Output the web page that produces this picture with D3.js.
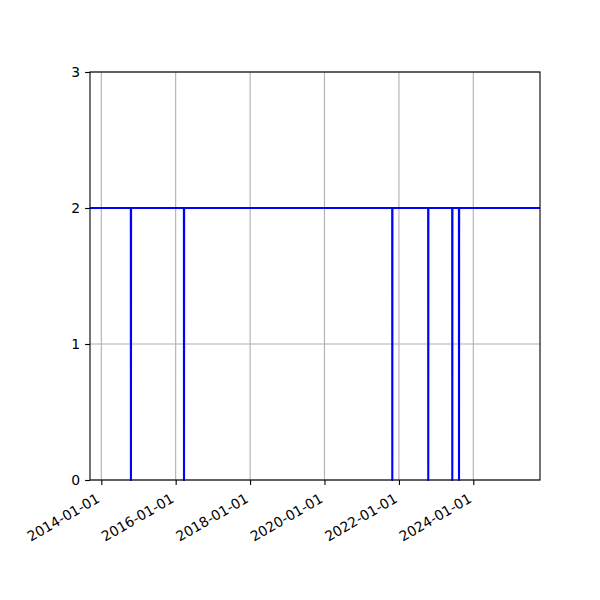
<!DOCTYPE html>
<html>
<head>
<meta charset="utf-8">
<script src="https://cdn.jsdelivr.net/npm/d3@7"></script>
<style>
  body { margin: 0; background: #fff; }
  text { font-family: "DejaVu Sans", sans-serif; font-size: 13.9px; fill: #000; }
</style>
</head>
<body>
<svg id="chart" width="600" height="600"></svg>
<script>
// x range shown on the axis
const xDomain = ["2013-09-12", "2025-10-17"];
// series: date, value (drops to 0 for a single day)
const dates = [
    "2013-09-12",
    "2014-10-18", "2014-10-19", "2014-10-20",
    "2016-03-22", "2016-03-23", "2016-03-24",
    "2021-10-27", "2021-10-28", "2021-10-29",
    "2022-10-15", "2022-10-16", "2022-10-17",
    "2023-06-08", "2023-06-09", "2023-06-10",
    "2023-08-13", "2023-08-14", "2023-08-15",
    "2025-10-17"
];
const values = [
    2,
    2, 0, 2,
    2, 0, 2,
    2, 0, 2,
    2, 0, 2,
    2, 0, 2,
    2, 0, 2,
    2
];
const xTicks = ["2014-01-01", "2016-01-01", "2018-01-01", "2020-01-01", "2022-01-01", "2024-01-01"];
const yTicks = [0, 1, 2, 3];

const parse = d3.utcParse("%Y-%m-%d");
const fmt = d3.utcFormat("%Y-%m-%d");

const svg = d3.select("#chart");
const mLeft = 90, mRight = 540, mTop = 72, mBottom = 480;

const x = d3.scaleUtc()
    .domain(xDomain.map(parse))
    .range([mLeft, mRight]);

const y = d3.scaleLinear()
    .domain([0, 3])
    .range([mBottom, mTop]);

// grid
svg.append("g")
    .selectAll("line")
    .data(xTicks.map(parse))
    .join("line")
    .attr("x1", d => x(d)).attr("x2", d => x(d))
    .attr("y1", mTop).attr("y2", mBottom)
    .attr("stroke", "#b0b0b0")
    .attr("stroke-width", 1.1);

svg.append("g")
    .selectAll("line")
    .data(yTicks)
    .join("line")
    .attr("x1", mLeft).attr("x2", mRight)
    .attr("y1", d => y(d)).attr("y2", d => y(d))
    .attr("stroke", "#b0b0b0")
    .attr("stroke-width", 1.1);

// the line
const pts = dates.map((d, i) => [parse(d), values[i]]);
const line = d3.line()
    .x(d => x(d[0]))
    .y(d => y(d[1]));

svg.append("path")
    .datum(pts)
    .attr("d", line)
    .attr("fill", "none")
    .attr("stroke", "#0000ff")
    .attr("stroke-width", 2.1)
    .attr("stroke-linejoin", "round");

// frame
svg.append("rect")
    .attr("x", mLeft).attr("y", mTop)
    .attr("width", mRight - mLeft).attr("height", mBottom - mTop)
    .attr("fill", "none")
    .attr("stroke", "#000")
    .attr("stroke-width", 1.1);

// x axis
const xAxis = d3.axisBottom(x)
    .tickValues(xTicks.map(parse))
    .tickFormat(fmt)
    .tickSize(4.9)
    .tickPadding(0);

const gx = svg.append("g")
    .attr("transform", `translate(0,${mBottom})`)
    .call(xAxis);
gx.select(".domain").remove();
gx.selectAll(".tick line").attr("stroke", "#000").attr("stroke-width", 1.1);
gx.selectAll(".tick text")
    .attr("text-anchor", "end")
    .attr("font-size", null)
    .attr("font-family", null)
    .attr("y", 0)
    .attr("dy", "0.7em")
    .attr("transform", "translate(-6,13) rotate(-30)");

// y axis
const yAxis = d3.axisLeft(y)
    .tickValues(yTicks)
    .tickFormat(d3.format("d"))
    .tickSize(4.9)
    .tickPadding(4.9);

const gy = svg.append("g")
    .attr("transform", `translate(${mLeft},0)`)
    .call(yAxis);
gy.select(".domain").remove();
gy.selectAll(".tick line").attr("stroke", "#000").attr("stroke-width", 1.1);
gy.selectAll(".tick text")
    .attr("font-size", null)
    .attr("font-family", null);
</script>
</body>
</html>
